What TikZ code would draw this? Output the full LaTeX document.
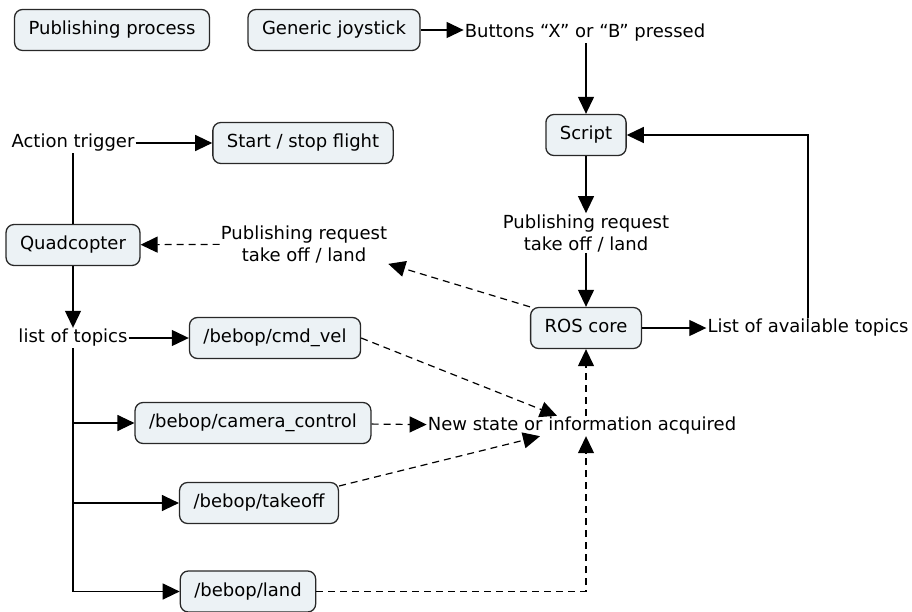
\documentclass[tikz,border=0pt]{standalone}
\usepackage{fontspec}
\setmainfont{DejaVu Sans}
\usetikzlibrary{arrows.meta}
\definecolor{boxfill}{RGB}{236,242,245}
\definecolor{boxline}{RGB}{40,40,40}
\tikzset{
  box/.style={draw=boxline,fill=boxfill,rounded corners=8pt,line width=1.3pt,
    minimum height=41pt,inner xsep=14pt,text height=13.5pt,text depth=4.5pt},
  txt/.style={inner sep=1pt,text height=13.5pt,text depth=4.5pt},
  lbl/.style={inner sep=1pt,align=center},
  arr/.style={-{Triangle[length=17pt,width=16pt]},line width=1.2pt},
  dasharr/.style={arr,dash pattern=on 7pt off 5pt},
}
\begin{document}
\begin{tikzpicture}[x=1pt,y=-1pt,font=\fontsize{18}{22}\selectfont]
\useasboundingbox (0,0) rectangle (912,612);
\node[box] (pub) at (112,30) {Publishing process};
\node[box] (joy) at (334,30) {Generic joystick};
\node[txt] (btn) at (585,33) {Buttons “X” or “B” pressed};
\node[box] (script) at (586,135) {Script};
\node[lbl] (pubr) at (586,233) {Publishing request\\take off / land};
\node[box] (ros) at (586,328) {ROS core};
\node[txt] (avail) at (808,328) {List of available topics};
\node[txt] (act) at (73,143) {Action trigger};
\node[box] (start) at (303,143) {Start / stop flight};
\node[box] (quad) at (73,245) {Quadcopter};
\node[lbl] (publ) at (304,244) {Publishing request\\take off / land};
\node[txt] (topics) at (73,338) {list of topics};
\node[box] (cmdvel) at (275,338) {/bebop/cmd\_vel};
\node[box] (cam) at (253,423) {/bebop/camera\_control};
\node[box] (take) at (259,503) {/bebop/takeoff};
\node[box] (land) at (248,591.5) {/bebop/land};
\node[txt] (newst) at (582,426) {New state or information acquired};
\draw[arr] (joy.east) -- (joy.east -| btn.west);
\draw[arr] (btn.south -| script) -- (script);
\draw[arr] (script) -- (pubr);
\draw[arr] (pubr) -- (ros);
\draw[arr] (ros) -- (avail);
\draw[arr] (avail.north) |- (script.east);
\draw[dasharr] (ros.north west) -- (publ.south east);
\draw[dasharr] (publ) -- (quad);
\draw[arr] (act) -- (start);
\draw[line width=1.2pt] (act.south) -- (act.south |- quad.north);
\draw[arr] (quad) -- (topics);
\draw[arr] (topics) -- (cmdvel);
\foreach \t in {cam,take,land}
  \draw[arr] (topics.south) |- (\t.west);
\draw[dasharr] (cmdvel.east) -- ([xshift=-25pt]newst.north);
\draw[dasharr] (cam) -- (newst);
\draw[dasharr] ([yshift=17pt]take.east) -- ([xshift=-42pt]newst.south);
\draw[dasharr] (land) -| (ros.south |- newst.south);
\draw[dasharr] (ros.south |- newst.north) -- (ros.south);
\end{tikzpicture}
\end{document}
